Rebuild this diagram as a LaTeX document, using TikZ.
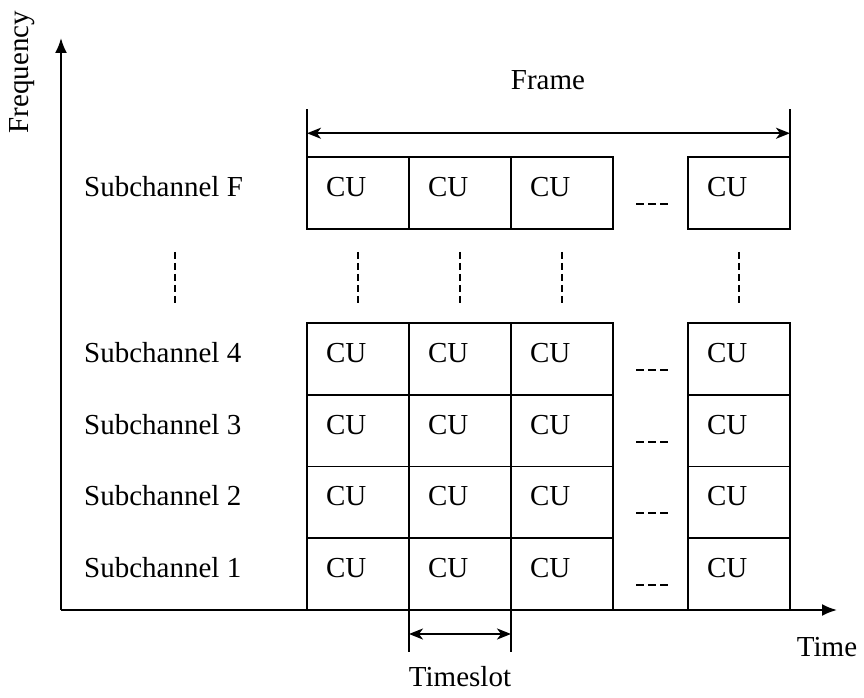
\documentclass[tikz,border=0pt]{standalone}
\usepackage{fontspec}
\setmainfont{Liberation Serif}
\usetikzlibrary{calc,arrows.meta}

\tikzset{
    txt/.style={font=\fontsize{29}{35}\selectfont},
    cell/.style={txt, rectangle, draw=black, line width=1.8pt, outer sep=0pt, minimum width=102pt, minimum height=71.75pt, anchor=south west, inner xsep=19pt, text width=64pt, align=left, text depth=12pt},
    chan/.style={txt, anchor=base west, inner sep=0pt},
    axis/.style={line width=2pt, -{Latex[length=15pt,width=12pt]}},
    dim/.style={line width=1.8pt, {Stealth[length=14pt,width=11pt,inset=4pt]}-{Stealth[length=14pt,width=11pt,inset=4pt]}},
    vdots/.style={line width=1.8pt, dash pattern=on 7pt off 4pt},
    hdots/.style={line width=2pt, dash pattern=on 8pt off 4pt}
}

\begin{document}
\begin{tikzpicture}[x=1pt, y=1pt]
    \useasboundingbox (0,0) rectangle (864,697);

    \coordinate (o) at (61,87);
    \coordinate (ftip) at (61,659);
    \coordinate (ttip) at (837,87);
    \coordinate (lx) at (84,0);

    \draw[axis] (o) -- (ftip);
    \draw[axis] (o) -- (ttip);
    \node[txt, rotate=90] (freq) at (22,625) {Frequency};
    \node[txt] (time) at (827,50) {Time};

    % subchannel 1
    \node[cell] (c1a) at (307,87) {CU};
    \node[cell] (c1b) at (c1a.south east) {CU};
    \node[cell] (c1c) at (c1b.south east) {CU};
    \node[cell] (c1l) at (688,87) {CU};

    % subchannel 2
    \node[cell] (c2a) at (c1a.north west) {CU};
    \node[cell] (c2b) at (c1b.north west) {CU};
    \node[cell] (c2c) at (c1c.north west) {CU};
    \node[cell] (c2l) at (c1l.north west) {CU};

    % subchannel 3
    \node[cell] (c3a) at (c2a.north west) {CU};
    \node[cell] (c3b) at (c2b.north west) {CU};
    \node[cell] (c3c) at (c2c.north west) {CU};
    \node[cell] (c3l) at (c2l.north west) {CU};

    % subchannel 4
    \node[cell] (c4a) at (c3a.north west) {CU};
    \node[cell] (c4b) at (c3b.north west) {CU};
    \node[cell] (c4c) at (c3c.north west) {CU};
    \node[cell] (c4l) at (c3l.north west) {CU};

    % subchannel F
    \node[cell] (cFa) at (307,468) {CU};
    \node[cell] (cFb) at (cFa.south east) {CU};
    \node[cell] (cFc) at (cFb.south east) {CU};
    \node[cell] (cFl) at (688,468) {CU};

    \node[chan] (s1) at (lx |- c1a.base) {Subchannel 1};
    \node[chan] (s2) at (lx |- c2a.base) {Subchannel 2};
    \node[chan] (s3) at (lx |- c3a.base) {Subchannel 3};
    \node[chan] (s4) at (lx |- c4a.base) {Subchannel 4};
    \node[chan] (sF) at (lx |- cFa.base) {Subchannel F};

    % dashes between columns
    \draw[hdots] ($(c1c.east)+(23,-11)$) -- ++(32,0);
    \draw[hdots] ($(c2c.east)+(23,-11)$) -- ++(32,0);
    \draw[hdots] ($(c3c.east)+(23,-11)$) -- ++(32,0);
    \draw[hdots] ($(c4c.east)+(23,-11)$) -- ++(32,0);
    \draw[hdots] ($(cFc.east)+(23,-11)$) -- ++(32,0);

    % dots between rows
    \draw[vdots] ($(lx |- cFa.south)+(91,-23)$) -- ($(lx |- c4a.north)+(91,19)$);
    \draw[vdots] ($(cFa.south)+(0,-23)$) -- ($(c4a.north)+(0,19)$);
    \draw[vdots] ($(cFb.south)+(0,-23)$) -- ($(c4b.north)+(0,19)$);
    \draw[vdots] ($(cFc.south)+(0,-23)$) -- ($(c4c.north)+(0,19)$);
    \draw[vdots] ($(cFl.south)+(0,-23)$) -- ($(c4l.north)+(0,19)$);

    % frame
    \draw[line width=1.8pt] (cFa.north west) -- ++(0,48);
    \draw[line width=1.8pt] (cFl.north east) -- ++(0,48);
    \draw[dim] ($(cFa.north west)+(0,24)$) -- ($(cFl.north east)+(0,24)$);
    \node[txt] (frame) at (548,617) {Frame};

    % timeslot
    \draw[line width=1.8pt] (c1b.south west) -- ++(0,-42);
    \draw[line width=1.8pt] (c1b.south east) -- ++(0,-42);
    \draw[dim] ($(c1b.south west)+(0,-24)$) -- ($(c1b.south east)+(0,-24)$);
    \node[txt] (slot) at (460,20) {Timeslot};
\end{tikzpicture}
\end{document}
